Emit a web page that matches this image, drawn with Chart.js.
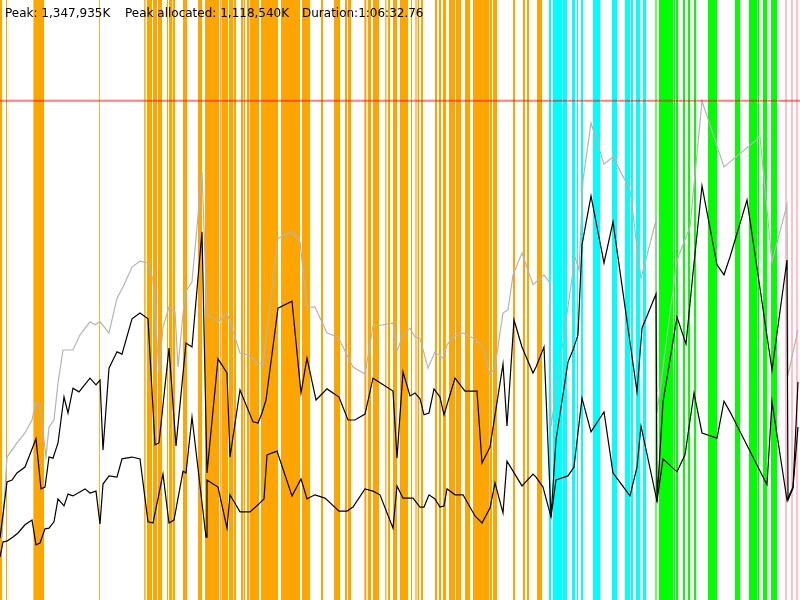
<!DOCTYPE html>
<html lang="en">
  <head>
    <meta charset="UTF-8" />
    <title>Memory timeline</title>
    <style>
      *,
      *::after,
      *::before {
        margin: 0;
        padding: 0;
      }

      body {
        background: #fff;
      }

      .frame {
        position: relative;
        width: 800px;
        height: 600px;
      }
    </style>
  </head>
  <body>
    <div class="frame">
      <canvas id="memChart"></canvas>
    </div>

    <script src="https://cdn.jsdelivr.net/npm/chart.js@4/dist/chart.umd.min.js"></script>
    <script>
      // Header texts
      const headerLabels = ['Peak: 1,347,935K', 'Peak allocated: 1,118,540K', 'Duration:1:06:32.76']

      // Peak in MB (thousands of K)
      const peakMB = 1347.935

      // Time span (seconds) and memory span (MB) shown
      const timeMax = 4000
      const memMax = 1620

      // Total memory (grey line)
      const totalTimes = [10, 35, 85, 125, 160, 180, 200, 230, 245, 270, 290, 315, 365, 400, 450, 475, 500, 545, 585, 615, 660, 700, 740, 765, 795, 815, 845, 875, 890, 925, 960, 1010, 1035, 1090, 1135, 1200, 1240, 1290, 1315, 1390, 1460, 1500, 1535, 1575, 1635, 1690, 1765, 1825, 1865, 1915, 1965, 1985, 2015, 2050, 2075, 2100, 2140, 2175, 2215, 2235, 2265, 2315, 2365, 2410, 2450, 2475, 2515, 2540, 2565, 2610, 2665, 2720, 2750, 2755, 2875, 2895, 2915, 2955, 3020, 3065, 3150, 3205, 3280, 3285, 3385, 3450, 3510, 3620, 3650, 3800, 3860, 3935, 3940, 3990]
      const totalMB = [170, 386, 424, 451, 486, 535, 521, 386, 467, 486, 586, 675, 675, 716, 751, 743, 751, 721, 815, 845, 899, 915, 910, 864, 613, 737, 791, 778, 629, 829, 859, 1156, 775, 751, 775, 667, 662, 640, 635, 977, 994, 967, 791, 791, 721, 710, 629, 610, 740, 743, 748, 672, 716, 734, 710, 707, 626, 670, 653, 689, 710, 721, 707, 689, 608, 629, 775, 783, 878, 937, 851, 878, 856, 467, 926, 891, 1134, 1288, 1177, 1196, 1107, 867, 1026, 505, 918, 1007, 1347, 1169, 1183, 1250, 913, 1067, 608, 729]

      // Allocated memory (upper black line)
      const allocTimes = [0, 35, 60, 85, 125, 180, 205, 225, 245, 265, 290, 320, 340, 365, 395, 450, 480, 500, 515, 545, 585, 610, 660, 700, 740, 775, 795, 845, 880, 930, 960, 1010, 1035, 1090, 1135, 1150, 1200, 1265, 1290, 1310, 1330, 1390, 1460, 1505, 1535, 1580, 1635, 1695, 1740, 1775, 1825, 1865, 1965, 1985, 2015, 2050, 2075, 2100, 2120, 2145, 2170, 2200, 2220, 2275, 2325, 2385, 2410, 2450, 2515, 2535, 2570, 2610, 2665, 2680, 2720, 2755, 2780, 2840, 2865, 2890, 2910, 2955, 3020, 3065, 3185, 3210, 3280, 3285, 3315, 3385, 3430, 3465, 3510, 3585, 3620, 3650, 3735, 3860, 3935, 3940, 3965, 3990]
      const allocMB = [167, 319, 324, 343, 359, 435, 300, 305, 386, 383, 424, 548, 505, 572, 562, 599, 581, 594, 405, 626, 670, 664, 759, 775, 759, 419, 424, 680, 416, 694, 683, 994, 343, 651, 613, 386, 567, 481, 478, 505, 540, 788, 807, 559, 653, 540, 570, 548, 486, 486, 502, 599, 564, 383, 616, 551, 559, 543, 500, 505, 570, 548, 500, 599, 564, 564, 370, 413, 637, 470, 756, 683, 613, 629, 683, 224, 432, 643, 675, 716, 959, 1091, 910, 1021, 562, 734, 826, 265, 535, 764, 691, 883, 1118, 905, 878, 926, 1080, 621, 918, 270, 302, 589]

      // Live memory (lower black line)
      const liveTimes = [0, 15, 35, 65, 90, 125, 160, 180, 200, 225, 245, 270, 290, 320, 340, 365, 425, 450, 480, 500, 515, 545, 585, 610, 660, 700, 740, 765, 815, 845, 870, 915, 930, 960, 1030, 1035, 1090, 1135, 1150, 1200, 1250, 1290, 1320, 1335, 1385, 1460, 1505, 1535, 1575, 1625, 1695, 1735, 1765, 1825, 1865, 1900, 1965, 1985, 2015, 2065, 2100, 2120, 2145, 2175, 2200, 2220, 2235, 2275, 2315, 2375, 2410, 2450, 2475, 2515, 2535, 2610, 2665, 2680, 2715, 2755, 2780, 2840, 2870, 2910, 2955, 3020, 3065, 3150, 3185, 3205, 3285, 3315, 3385, 3425, 3470, 3510, 3585, 3620, 3650, 3835, 3860, 3935, 3965, 3990]
      const liveMB = [116, 157, 159, 170, 181, 203, 216, 149, 154, 192, 194, 211, 273, 254, 286, 281, 300, 289, 294, 205, 313, 335, 332, 381, 386, 381, 211, 208, 340, 208, 216, 348, 343, 494, 170, 324, 305, 194, 284, 238, 238, 257, 273, 392, 402, 281, 327, 273, 284, 275, 240, 240, 251, 300, 294, 284, 194, 308, 275, 275, 251, 251, 284, 273, 251, 254, 300, 284, 284, 227, 208, 248, 316, 235, 375, 308, 340, 332, 305, 224, 324, 335, 359, 545, 454, 508, 343, 281, 359, 470, 267, 381, 346, 392, 559, 451, 437, 537, 508, 311, 535, 270, 305, 467]

      // Phase spans [start, end] in seconds
      const orangeSpans = [[0, 10], [30, 35], [167, 220], [496, 500], [721, 728], [735, 760], [765, 785], [790, 810], [835, 840], [845, 860], [863, 875], [915, 935], [990, 1010], [1025, 1095], [1101, 1108], [1110, 1140], [1145, 1165], [1168, 1180], [1205, 1215], [1218, 1225], [1235, 1245], [1248, 1295], [1305, 1390], [1405, 1500], [1510, 1550], [1605, 1615], [1670, 1700], [1725, 1735], [1740, 1755], [1822, 1832], [1840, 1855], [1865, 1895], [1926, 1932], [1940, 1950], [1965, 1985], [2000, 2040], [2055, 2060], [2077, 2083], [2088, 2095], [2105, 2115], [2175, 2185], [2195, 2205], [2215, 2230], [2245, 2275], [2280, 2305], [2325, 2350], [2365, 2445], [2448, 2460], [2465, 2485], [2565, 2575], [2615, 2625], [2635, 2645], [2685, 2710]]
      const cyanSpans = [[2745, 2755], [2765, 2812], [2815, 2835], [2860, 2875], [2885, 2890], [2905, 2915], [2965, 3000], [3060, 3085], [3125, 3150], [3155, 3165], [3180, 3200], [3215, 3230]]
      const greenSpans = [[3277, 3283], [3295, 3365], [3368, 3375], [3380, 3390], [3415, 3425], [3440, 3450], [3470, 3480], [3540, 3585], [3675, 3700], [3745, 3785], [3788, 3795], [3815, 3835], [3855, 3885]]
      const pinkSpans = [[3925, 3935], [3955, 3965], [3980, 3990]]

      const phases = [
        { spans: orangeSpans, color: '#ffa500' },
        { spans: cyanSpans, color: '#00ffff' },
        { spans: greenSpans, color: '#00ff00' },
        { spans: pinkSpans, color: '#ffc0cb' }
      ]

      const toPoints = (xs, ys) => xs.map((x, i) => ({ x, y: ys[i] }))

      // Paint the phase spans behind the lines
      const phasePlugin = {
        id: 'phases',
        beforeDatasetsDraw(chart) {
          const { ctx, chartArea, scales } = chart
          ctx.save()
          phases.forEach((phase) => {
            ctx.fillStyle = phase.color
            phase.spans.forEach(([s, e]) => {
              const x0 = scales.x.getPixelForValue(s)
              const x1 = scales.x.getPixelForValue(e)
              ctx.fillRect(x0, chartArea.top, x1 - x0, chartArea.bottom - chartArea.top)
            })
          })
          ctx.restore()
        }
      }

      // Header line on top
      const headerPlugin = {
        id: 'header',
        afterDraw(chart) {
          const { ctx } = chart
          const xs = [5, 125, 302]
          ctx.save()
          ctx.font = '12px "DejaVu Sans", sans-serif'
          ctx.fillStyle = '#000'
          ctx.textBaseline = 'alphabetic'
          headerLabels.forEach((t, i) => ctx.fillText(t, xs[i], 17))
          ctx.restore()
        }
      }

      const ctx = document.getElementById('memChart')

      const data = {
        datasets: [
          {
            label: 'Peak',
            data: [{ x: 0, y: peakMB }, { x: timeMax, y: peakMB }],
            borderColor: 'rgba(255, 0, 0, 0.5)',
            borderWidth: 2
          },
          {
            label: 'Allocated',
            data: toPoints(allocTimes, allocMB),
            borderColor: '#000',
            borderWidth: 1.2
          },
          {
            label: 'Live',
            data: toPoints(liveTimes, liveMB),
            borderColor: '#000',
            borderWidth: 1.2
          },
          {
            label: 'Total',
            data: toPoints(totalTimes, totalMB),
            borderColor: '#b4b4b4',
            borderWidth: 1.2
          }
        ]
      }

      const options = {
        responsive: true,
        maintainAspectRatio: false,
        animation: false,
        layout: { padding: 0 },
        elements: {
          point: { radius: 0 },
          line: { tension: 0, fill: false }
        },
        plugins: {
          legend: { display: false },
          tooltip: { enabled: false }
        },
        scales: {
          x: { type: 'linear', min: 0, max: timeMax, display: false },
          y: { type: 'linear', min: 0, max: memMax, display: false }
        }
      }

      new Chart(ctx, { type: 'line', data, options, plugins: [phasePlugin, headerPlugin] })
    </script>
  </body>
</html>
